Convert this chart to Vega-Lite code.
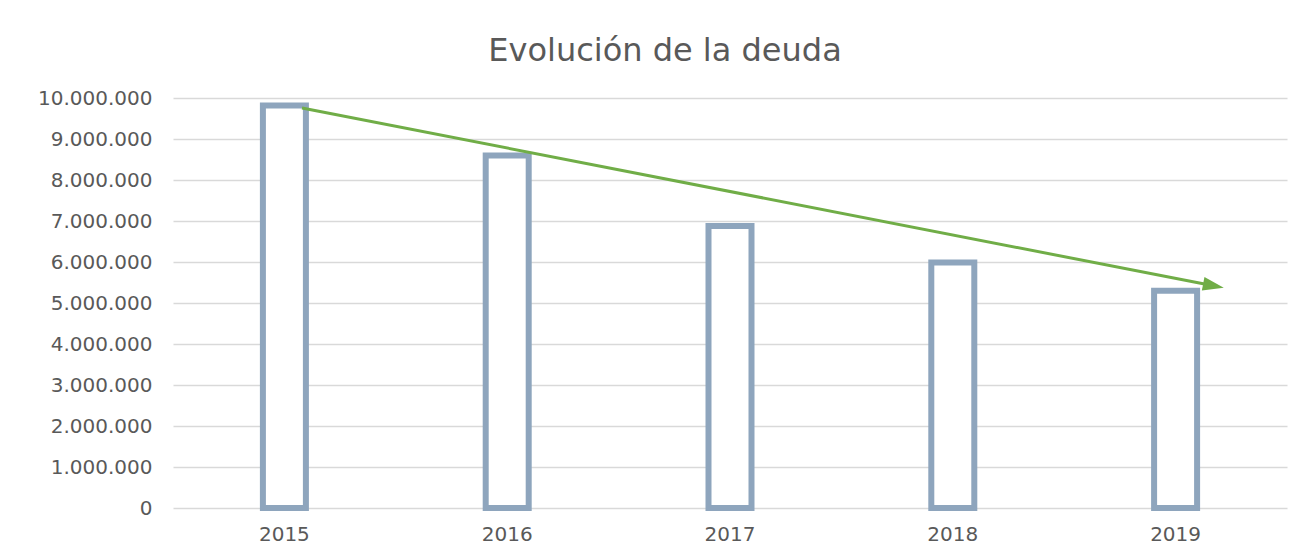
{
  "$schema": "https://vega.github.io/schema/vega-lite/v6.json",
  "width": 1114,
  "height": 410,
  "autosize": {"type": "none"},
  "padding": {"left": 173, "top": 98, "right": 19, "bottom": 50},
  "background": "white",
  "config": {
    "locale": {"number": {"decimal": ",", "thousands": ".", "grouping": [3], "currency": ["", " €"]}},
    "view": {"stroke": null},
    "font": "DejaVu Sans"
  },
  "title": {
    "text": "Evolución de la deuda",
    "font": "DejaVu Sans",
    "fontSize": 32,
    "fontWeight": "normal",
    "color": "#595959",
    "anchor": "middle",
    "frame": "group",
    "dx": -65,
    "offset": 20
  },
  "datasets": {
    "deuda": [
      {"year": "2015", "deuda": 9820000},
      {"year": "2016", "deuda": 8600000},
      {"year": "2017", "deuda": 6880000},
      {"year": "2018", "deuda": 5990000},
      {"year": "2019", "deuda": 5300000}
    ],
    "trend": [
      {"t": 2015.079, "v": 9756000},
      {"t": 2019.17, "v": 5420000}
    ],
    "head": [
      {"t": 2019.17, "v": 5420000}
    ]
  },
  "resolve": {"scale": {"x": "independent"}},
  "layer": [
    {
      "data": {"name": "deuda"},
      "mark": {"type": "bar", "size": 43, "fill": "white", "stroke": "#8EA5BD", "strokeWidth": 6, "strokeJoin": "miter"},
      "encoding": {
        "x": {
          "field": "year", "type": "ordinal",
          "scale": {"paddingInner": 0.2, "paddingOuter": 0.1},
          "axis": {"title": null, "labelAngle": 0, "labelFont": "DejaVu Sans", "labelFontSize": 20, "labelColor": "#595959", "ticks": false, "domain": false, "labelPadding": 16}
        },
        "y": {
          "field": "deuda", "type": "quantitative",
          "scale": {"domain": [0, 10000000], "nice": false},
          "axis": {
            "title": null, "values": [0,1000000,2000000,3000000,4000000,5000000,6000000,7000000,8000000,9000000,10000000],
            "format": ",d", "labelFont": "DejaVu Sans", "labelFontSize": 20, "labelColor": "#595959",
            "ticks": false, "domain": false, "labelPadding": 21,
            "grid": true, "gridColor": "#d9d9d9", "gridWidth": 1.5
          }
        }
      }
    },
    {
      "layer": [
        {
          "data": {"name": "trend"},
          "mark": {"type": "line", "color": "#70AD47", "strokeWidth": 3},
          "encoding": {}
        },
        {
          "data": {"name": "head"},
          "mark": {"type": "point", "shape": "M-1,-0.65L1,0L-1,0.65Z", "filled": true, "color": "#70AD47", "opacity": 1, "size": 441, "angle": 11},
          "encoding": {}
        }
      ],
      "encoding": {
        "x": {"field": "t", "type": "quantitative", "scale": {"domain": [2014.5, 2019.5], "nice": false, "zero": false}, "axis": null},
        "y": {"field": "v", "type": "quantitative"}
      }
    }
  ]
}
